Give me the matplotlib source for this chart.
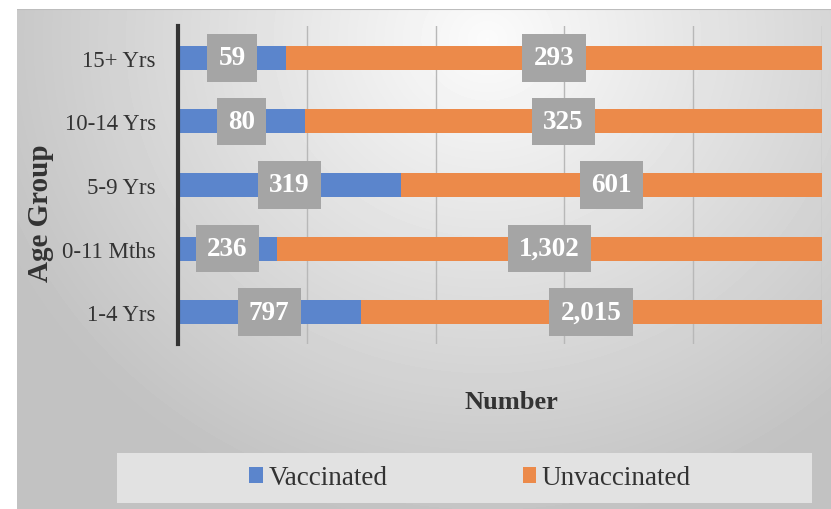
import numpy as np
import matplotlib.pyplot as plt
from matplotlib.patches import Rectangle

# --- DONNEES ---
groups = ["1-4 Yrs", "0-11 Mths", "5-9 Yrs", "10-14 Yrs", "15+ Yrs"]
vaccinated = [797, 236, 319, 80, 59]
unvaccinated = [2015, 1302, 601, 325, 293]
series_names = ["Vaccinated", "Unvaccinated"]

BLUE = "#5B85CC"
ORANGE = "#EC8A4A"
BOX = "#A5A5A5"

plt.rcParams['font.family'] = ['Liberation Serif', 'DejaVu Serif']

W, H = 831, 510
fig = plt.figure(figsize=(W / 100, H / 100), dpi=100)

# fond dégradé (zone du graphique)
bg = fig.add_axes([17 / W, 0, 1 - 17 / W, 1 - 10 / H], zorder=0)
yy, xx = np.mgrid[0:500, 0:814]
d = np.sqrt(((xx - 470) / 520.0) ** 2 + ((yy - 30) / 480.0) ** 2)
shade = np.clip(0.985 - 0.22 * d, 0.76, 0.985)
bg.imshow(shade, cmap='gray', vmin=0, vmax=1, aspect='auto', extent=[0, 1, 0, 1])
bg.plot([0, 1], [1, 1], color="#bdbdbd", lw=1.5)
bg.set_xlim(0, 1)
bg.set_ylim(0, 1)
bg.axis('off')

# axes principaux
ax = fig.add_axes([178 / W, 1 - 345 / H, (822 - 178) / W, (345 - 27) / H], zorder=1)
ax.patch.set_alpha(0)

vac = np.array(vaccinated, dtype=float)
unv = np.array(unvaccinated, dtype=float)
tot = vac + unv
pv = vac / tot * 100
pu = unv / tot * 100
y = np.arange(len(groups))

ax.barh(y, pv, height=0.38, color=BLUE, label=series_names[0], zorder=2)
ax.barh(y, pu, left=pv, height=0.38, color=ORANGE, label=series_names[1], zorder=2)

box = dict(boxstyle="square,pad=0.42", fc=BOX, ec="none")
for i in range(len(groups)):
    ax.text(pv[i] / 2, y[i], f"{vaccinated[i]:,}", ha='center', va='center',
            color='white', fontsize=19.5, fontweight='bold', bbox=box, zorder=3)
    ax.text(pv[i] + pu[i] / 2, y[i], f"{unvaccinated[i]:,}", ha='center', va='center',
            color='white', fontsize=19.5, fontweight='bold', bbox=box, zorder=3)

ax.set_xlim(0, 100)
ax.set_ylim(-0.5, 4.5)
ax.set_xticks([0, 20, 40, 60, 80, 100])
ax.set_xticklabels([])
ax.tick_params(axis='x', length=0)
ax.grid(axis='x', color="#b8b8b8", lw=1, zorder=0)
ax.set_yticks(y)
ax.set_yticklabels(groups, fontsize=16.5, color="#333333")
ax.tick_params(axis='y', length=0, pad=16)
for s in ['top', 'right', 'bottom']:
    ax.spines[s].set_visible(False)
ax.spines['left'].set_linewidth(3)
ax.spines['left'].set_color("#333333")
ax.spines['left'].set_zorder(4)

fig.text(40 / W, 1 - 213 / H, "Age Group", rotation=90, ha='center', va='center',
         fontsize=21, fontweight='bold', color="#333333")
fig.text(511 / W, 1 - 403 / H, "Number", ha='center', va='center',
         fontsize=19, fontweight='bold', color="#333333")

# légende
fig.patches.append(Rectangle((117 / W, 1 - 504 / H), (812 - 117) / W, 50 / H,
                             transform=fig.transFigure, fc="#e2e2e2", ec="none", zorder=1))
handles, labels = ax.get_legend_handles_labels()
leg = fig.legend(handles, labels, loc='center', bbox_to_anchor=(470 / W, 1 - 479 / H),
                 ncol=2, frameon=False, fontsize=19.5, handlelength=0.5, handleheight=0.5,
                 handletextpad=0.2, columnspacing=5.0)
for t in leg.get_texts():
    t.set_color("#333333")

fig.savefig("out.png", dpi=100)
